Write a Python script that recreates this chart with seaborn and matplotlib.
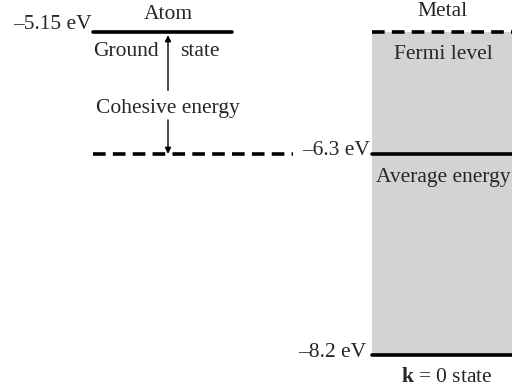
import numpy as np
import pandas as pd
import matplotlib.pyplot as plt
import seaborn as sns

sns.set_theme(style="white")
plt.rcParams["font.family"] = ["Liberation Serif", "DejaVu Serif"]
plt.rcParams["mathtext.fontset"] = "custom"
plt.rcParams["mathtext.rm"] = "Liberation Serif"
plt.rcParams["mathtext.bf"] = "Liberation Serif:bold"

# energy levels (eV)
atom_ground = -5.15
cohesive_level = -6.3
fermi_level = -5.15
average_energy = -6.3
k0_level = -8.2

level_names = ["Atom ground", "Cohesive", "Fermi level", "Average energy", "k = 0 state"]
level_energies = [atom_ground, cohesive_level, fermi_level, average_energy, k0_level]
level_styles = ["solid", "dashed", "dashed", "solid", "solid"]
energy_labels = ["\u20135.15 eV", "\u20136.3 eV", "\u20138.2 eV"]

# horizontal extents of each level (layout only)
x_from = [93, 93, 372, 372, 372]
x_to = [232, 293, 512, 512, 512]

rows = []
for name, e, st, a, b in zip(level_names, level_energies, level_styles, x_from, x_to):
    rows.append({"level": name, "x": a, "E": e, "style": st})
    rows.append({"level": name, "x": b, "E": e, "style": st})
df = pd.DataFrame(rows)

fig = plt.figure(figsize=(5.12, 3.88), dpi=100)
ax = fig.add_axes([0, 0, 1, 1])

# metal band (gray fill from k=0 up to Fermi level)
ax.fill_between([372, 512], k0_level, fermi_level, color="#d3d3d3", lw=0, zorder=0)

sns.lineplot(data=df, x="x", y="E", units="level", estimator=None,
             style="style", dashes={"solid": "", "dashed": (3.5, 2.0)},
             color="black", linewidth=2.6, legend=False, ax=ax, zorder=3)

px = 106.0  # pixels per eV
ax.set_xlim(0, 512)
ax.set_ylim(atom_ground - (388 - 32) / px, atom_ground + 32 / px)
ax.axis("off")

fs = 15.5
ax.text(168, atom_ground + 0.08, "Atom", ha="center", va="bottom", fontsize=fs)
ax.text(92, atom_ground - 0.02, energy_labels[0], ha="right", va="bottom", fontsize=fs)
ax.text(93, atom_ground - 0.09, "Ground", ha="left", va="top", fontsize=fs)
ax.text(180, atom_ground - 0.09, "state", ha="left", va="top", fontsize=fs)
ax.text(168, -5.87, "Cohesive energy", ha="center", va="center", fontsize=fs)

ax.annotate("", xy=(168, atom_ground - 0.03), xytext=(168, -5.7),
            arrowprops=dict(arrowstyle="-|>", color="black", lw=1.0,
                            mutation_scale=9, shrinkA=0, shrinkB=0))
ax.annotate("", xy=(168, cohesive_level), xytext=(168, -5.98),
            arrowprops=dict(arrowstyle="-|>", color="black", lw=1.0,
                            mutation_scale=9, shrinkA=0, shrinkB=0))

ax.text(443, fermi_level + 0.1, "Metal", ha="center", va="bottom", fontsize=fs)
ax.text(443, fermi_level - 0.12, "Fermi level", ha="center", va="top", fontsize=fs)
ax.text(370, average_energy + 0.03, energy_labels[1], ha="right", va="center", fontsize=fs)
ax.text(376, average_energy - 0.13, "Average energy", ha="left", va="top", fontsize=fs)
ax.text(366, k0_level + 0.03, energy_labels[2], ha="right", va="center", fontsize=fs)
ax.text(447, k0_level - 0.12, r"$\mathbf{k}$ = 0 state", ha="center", va="top", fontsize=fs)

fig.savefig("out.png", dpi=100, facecolor="white")
